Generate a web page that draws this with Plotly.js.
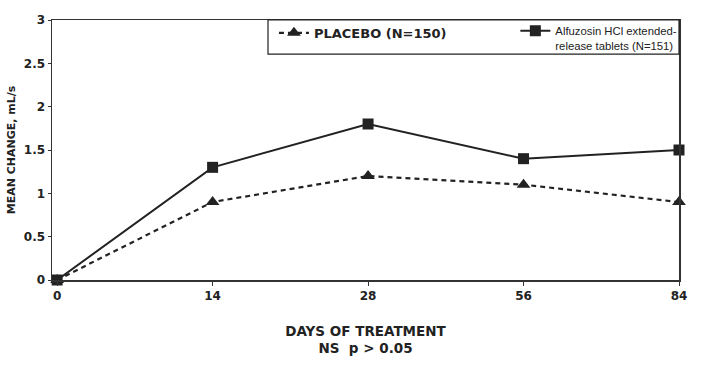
<!DOCTYPE html>
<html><head><meta charset="utf-8">
<script src="https://cdn.plot.ly/plotly-3.0.1.min.js"></script>
<style>body{margin:0;background:#fff}#c{width:702px;height:371px}</style>
</head><body><div id="c"></div>
<script>
const days = ["0", "14", "28", "56", "84"];
const placebo = [0, 0.9, 1.2, 1.1, 0.9];
const alfuzosin = [0, 1.3, 1.8, 1.4, 1.5];
const yTicks = [0, 0.5, 1, 1.5, 2, 2.5, 3];
const yTickText = ["0", "0.5", "1", "1.5", "2", "2.5", "3"];
const placeboName = "<b>PLACEBO (N=150)</b>";
const alfName = "Alfuzosin HCl extended-<br>release tablets (N=151)";
const nsLabel = "ns";

const ink = "#222";
const heavy = "DejaVu Sans, Liberation Sans, Arial, sans-serif";
const plain = "Liberation Sans, Arial, sans-serif";
const traces = [
  {x: days, y: placebo, name: placeboName, type: "scatter", mode: "lines+markers",
   line: {color: ink, width: 2.2, dash: "5px,4px"},
   marker: {symbol: "triangle-up", size: 12, color: ink}, cliponaxis: false, legend: "legend"},
  {x: days, y: alfuzosin, name: alfName, type: "scatter", mode: "lines+markers",
   line: {color: ink, width: 2},
   marker: {symbol: "square", size: 11, color: ink}, cliponaxis: false, legend: "legend2"}
];
const layout = {
  width: 702, height: 371,
  margin: {l: 52, r: 23, t: 20, b: 91},
  paper_bgcolor: "#fff", plot_bgcolor: "#fff",
  font: {family: heavy, color: ink},
  showlegend: true,
  legend: {x: 0.354, xanchor: "left", y: 1.008, yanchor: "top", valign: "top",
    bgcolor: "rgba(0,0,0,0)", borderwidth: 0,
    font: {size: 13, family: heavy, color: ink}},
  legend2: {x: 0.739, xanchor: "left", y: 1.012, yanchor: "top", valign: "top",
    bgcolor: "rgba(0,0,0,0)", borderwidth: 0,
    font: {size: 11.3, family: plain, color: ink}},
  shapes: [{type: "rect", xref: "paper", yref: "paper", x0: 0.3445, x1: 1, y0: 0.869, y1: 1,
    line: {color: ink, width: 1.2}, fillcolor: "rgba(0,0,0,0)", layer: "above"}],
  xaxis: {type: "category", range: [-0.033, 4], showgrid: false, zeroline: false,
    showline: true, linecolor: "#333", linewidth: 1.5, mirror: true,
    ticks: "outside", ticklen: 4, tickcolor: "#333",
    tickfont: {size: 12, family: heavy, weight: "bold"},
    title: {text: "<b>DAYS OF TREATMENT<br>NS  p > 0.05</b>", standoff: 24,
      font: {size: 13.5, family: heavy}}},
  yaxis: {range: [0, 3], tickvals: yTicks, ticktext: yTickText, showgrid: false, zeroline: false,
    showline: true, linecolor: "#333", linewidth: 1.5, mirror: true,
    ticks: "outside", ticklen: 3, tickcolor: "#333",
    tickfont: {size: 12, family: heavy, weight: "bold"},
    title: {text: "<b>MEAN CHANGE, mL/s</b>", standoff: 6,
      font: {size: 11, family: heavy}}},
  annotations: [{x: "84", y: 1.5, xref: "x", yref: "y", text: "<b>" + nsLabel + "</b>",
    showarrow: false, xshift: -14, yshift: -21, font: {size: 9, family: heavy, color: ink}}]
};
Plotly.newPlot("c", traces, layout, {displayModeBar: false, staticPlot: true});
</script></body></html>
